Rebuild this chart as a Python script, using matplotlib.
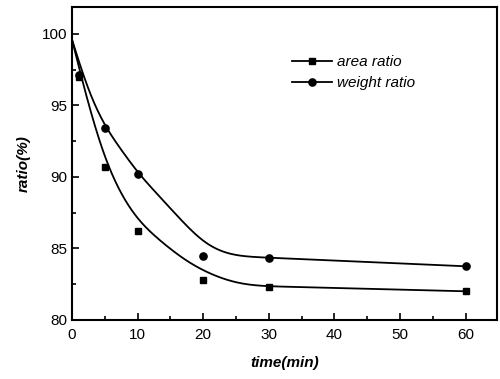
import numpy as np
import matplotlib
matplotlib.use("Agg")
import matplotlib.pyplot as plt
from matplotlib.lines import Line2D
from matplotlib.ticker import MultipleLocator

# measured data
time_pts = [1, 5, 10, 20, 30, 60]
area_ratio = [97.0, 90.7, 86.2, 82.8, 82.3, 82.0]
weight_ratio = [97.1, 93.4, 90.2, 84.5, 84.3, 83.8]

# fitted curves
curve_x = [0, 2.5, 5, 7.5, 10, 12.5, 15, 17.5, 20, 22.5, 25, 27.5, 30, 60]
area_curve = [99.6, 95.0, 91.2, 88.7, 87.0, 85.9, 84.95, 84.1, 83.45, 82.95,
              82.6, 82.42, 82.35, 82.0]
weight_curve = [99.6, 95.9, 93.5, 91.9, 90.3, 89.05, 87.8, 86.55, 85.45, 84.8,
                84.5, 84.4, 84.35, 83.75]

def smooth_curve(x, y, xs, sigma=1.3):
    x = np.asarray(x, float); y = np.asarray(y, float)
    step = 0.05
    g = np.arange(x[0] - 8, x[-1] + 8 + step, step)
    v = np.interp(g, x, y)
    s0 = (y[1] - y[0]) / (x[1] - x[0]); s1 = (y[-1] - y[-2]) / (x[-1] - x[-2])
    v = np.where(g < x[0], y[0] + s0 * (g - x[0]), v)
    v = np.where(g > x[-1], y[-1] + s1 * (g - x[-1]), v)
    kx = np.arange(-4 * sigma, 4 * sigma + step, step)
    k = np.exp(-0.5 * (kx / sigma) ** 2); k /= k.sum()
    sm = np.convolve(v, k, mode='same')
    return np.interp(xs, g, sm)

plt.rcParams['font.family'] = ['Liberation Sans', 'DejaVu Sans']

fig = plt.figure(figsize=(5.0, 3.79), dpi=100)
ax = fig.add_axes([0.144, 0.156, 0.850, 0.826])

xs = np.linspace(0, 60, 600)
ax.plot(xs, smooth_curve(curve_x, area_curve, xs), color='black', lw=1.3)
ax.plot(xs, smooth_curve(curve_x, weight_curve, xs), color='black', lw=1.3)
ax.plot(time_pts, weight_ratio, 'o', color='black', ms=5.2, ls='none')
ax.plot(time_pts, area_ratio, 's', color='black', ms=5, ls='none')

ax.set_xlim(0, 64.8)
ax.set_ylim(80, 101.9)
ax.xaxis.set_major_locator(MultipleLocator(10))
ax.xaxis.set_minor_locator(MultipleLocator(5))
ax.yaxis.set_major_locator(MultipleLocator(5))
ax.yaxis.set_minor_locator(MultipleLocator(2.5))
ax.tick_params(which='both', direction='in', top=False, right=False, labelsize=11, width=1.2)
ax.tick_params(axis='x', which='major', pad=6)
ax.tick_params(which='major', length=5)
ax.tick_params(which='minor', length=3)
for s in ax.spines.values():
    s.set_linewidth(1.5)

ax.set_xlabel('time(min)', fontsize=11, fontweight='bold', fontstyle='italic', labelpad=10)
ax.set_ylabel('ratio(%)', fontsize=11, fontweight='bold', fontstyle='italic', labelpad=8)

handles = [Line2D([], [], color='black', lw=1.3, marker='s', ms=5),
           Line2D([], [], color='black', lw=1.3, marker='o', ms=5.2)]
ax.legend(handles, ['area ratio', 'weight ratio'], loc='upper left',
          bbox_to_anchor=(0.503, 0.865), frameon=False, handlelength=2.6,
          handletextpad=0.35, labelspacing=0.45, borderaxespad=0.0,
          prop={'style': 'italic', 'size': 11})

fig.savefig('out.png', dpi=100)
